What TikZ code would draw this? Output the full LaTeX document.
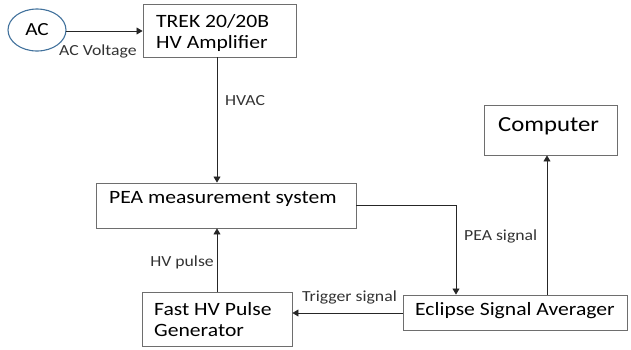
\documentclass[tikz,border=0pt]{standalone}
\usepackage{fontspec}
\setmainfont[FakeStretch=1.15]{Carlito}
\usetikzlibrary{arrows.meta,shapes.geometric}
\definecolor{boxgray}{RGB}{110,110,110}
\definecolor{acblue}{RGB}{65,113,156}
\begin{document}
\begin{tikzpicture}[x=1pt,y=-1pt,
  blk/.style={draw=boxgray,line width=0.9pt,inner sep=0pt},
  btext/.style={font=\fontsize{18.8}{22}\selectfont,anchor=west,inner sep=0pt,align=left},
  lbl/.style={font=\fontsize{15.4}{18}\selectfont,inner sep=0pt,text=black!80},
  conn/.style={draw=black!85,line width=0.8pt},
  arr/.style={conn,-{Triangle[length=6pt,width=7pt]}}]
\useasboundingbox (0,0) rectangle (631,349);
% AC source
\node[ellipse,draw=acblue,line width=1.1pt,minimum width=58,minimum height=42,inner sep=0pt,
  font=\fontsize{18.5}{22}\selectfont] (ac) at (37,30) {AC};
% boxes
\node[blk,minimum width=153,minimum height=53] (trek) at (219.5,30.5) {};
\node[btext] (trekt) at (156,33) {TREK 20/20B\\[-1pt]HV Amplifier};
\node[blk,minimum width=260,minimum height=45] (pea) at (226,205.5) {};
\node[btext] (peat) at (109,199) {PEA measurement system};
\node[blk,minimum width=133,minimum height=50] (comp) at (550.5,130) {};
\node[btext,font=\fontsize{21.5}{25}\selectfont] (compt) at (498,126) {Computer};
\node[blk,minimum width=224,minimum height=35] (ecl) at (515,312.5) {};
\node[btext] (eclt) at (415,311) {Eclipse Signal Averager};
\node[blk,minimum width=150,minimum height=54] (fast) at (217,319) {};
\node[btext] (fastt) at (154,320) {Fast HV Pulse\\[-1pt]Generator};
% connectors
\coordinate (acout) at (66,31);
\draw[arr] (acout) -- (trek.west |- acout);
\node[lbl,anchor=north west] (acl) at (59,45) {AC Voltage};
\draw[arr] (trek.south -| 217,0) -- (pea.north -| 217,0);
\node[lbl,anchor=west] (hvac) at (225,101) {HVAC};
\coordinate (peaout) at (pea.east |- 0,205);
\coordinate (bend) at (456,205);
\draw[arr] (peaout) -- (bend) -- (ecl.north -| bend);
\node[lbl,anchor=west] (peal) at (464,236) {PEA signal};
\draw[arr] (ecl.north -| 547,0) -- (comp.south -| 547,0);
\draw[arr] (ecl.west |- 0,313) -- (fast.east |- 0,313);
\node[lbl,anchor=west] (trig) at (302,297) {Trigger signal};
\draw[arr] (fast.north -| 217,0) -- (pea.south -| 217,0);
\node[lbl,anchor=east] (hvp) at (214,262) {HV pulse};
\end{tikzpicture}
\end{document}
